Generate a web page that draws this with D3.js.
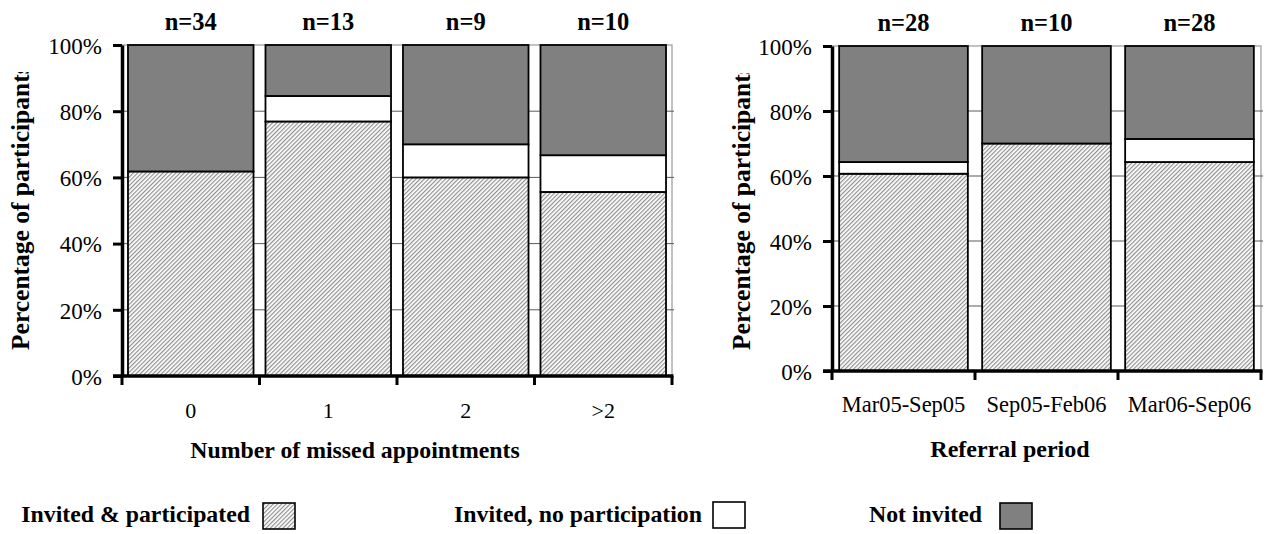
<!DOCTYPE html>
<html>
<head>
<meta charset="utf-8">
<script src="https://cdn.jsdelivr.net/npm/d3@7/dist/d3.min.js"></script>
<style>
  html, body { margin: 0; padding: 0; background: #ffffff; }
  svg { display: block; }
  text { font-family: "Liberation Serif", "Times New Roman", serif; fill: #000; }
</style>
</head>
<body>
<svg id="chart" width="1274" height="534"></svg>
<script>
// ---------- data ----------
const seriesKeys = ["participated", "noParticipation", "notInvited"];
const seriesNames = ["Invited & participated", "Invited, no participation", "Not invited"];
const yTicks = [0, 20, 40, 60, 80, 100];
const yTitle = "Percentage of participants";

const leftCategories = ["0", "1", "2", ">2"];
const leftN = ["n=34", "n=13", "n=9", "n=10"];
const leftParticipated = [61.8, 76.9, 60.0, 55.6];
const leftNoParticipation = [0, 7.7, 10.0, 11.1];
const leftNotInvited = [38.2, 15.4, 30.0, 33.3];
const leftXTitle = "Number of missed appointments";

const rightCategories = ["Mar05-Sep05", "Sep05-Feb06", "Mar06-Sep06"];
const rightN = ["n=28", "n=10", "n=28"];
const rightParticipated = [60.7, 70.0, 64.3];
const rightNoParticipation = [3.6, 0, 7.1];
const rightNotInvited = [35.7, 30.0, 28.6];
const rightXTitle = "Referral period";

// ---------- setup ----------
const svg = d3.select("#chart");
const defs = svg.append("defs");
const pat = defs.append("pattern")
  .attr("id", "hatch")
  .attr("patternUnits", "userSpaceOnUse")
  .attr("width", 3).attr("height", 10)
  .attr("patternTransform", "rotate(45)");
pat.append("rect").attr("width", 3).attr("height", 10).attr("fill", "#ffffff");
pat.append("rect").attr("width", 1.2).attr("height", 10).attr("fill", "#909090");

const fills = { participated: "url(#hatch)", noParticipation: "#ffffff", notInvited: "#808080" };

function drawChart(cfg) {
  const rows = cfg.categories.map((c, i) => ({
    cat: c,
    participated: cfg.participated[i],
    noParticipation: cfg.noParticipation[i],
    notInvited: cfg.notInvited[i]
  }));
  const x = d3.scaleBand().domain(cfg.categories).range([cfg.x0, cfg.x1])
    .paddingInner(cfg.pad).paddingOuter(cfg.pad / 2);
  const y = d3.scaleLinear().domain([0, 100]).range([cfg.yBottom, cfg.yTop]);
  const g = svg.append("g");

  // plot border (top/right) and gridlines
  g.append("rect")
    .attr("x", cfg.x0).attr("y", y(100))
    .attr("width", cfg.x1 - cfg.x0).attr("height", y(0) - y(100))
    .attr("fill", "none").attr("stroke", "#9a9a9a").attr("stroke-width", 1.2);
  g.selectAll(".grid").data(yTicks.filter(t => t > 0 && t < 100)).enter()
    .append("line")
    .attr("x1", cfg.x0).attr("x2", cfg.x1 + 2)
    .attr("y1", d => y(d)).attr("y2", d => y(d))
    .attr("stroke", "#5a5a5a").attr("stroke-width", 1);

  // stacked bars
  const stack = d3.stack().keys(seriesKeys)(rows);
  stack.forEach(layer => {
    g.selectAll(null).data(layer.filter(d => d[1] - d[0] > 0)).enter()
      .append("rect")
      .attr("x", d => x(d.data.cat))
      .attr("width", x.bandwidth())
      .attr("y", d => y(d[1]))
      .attr("height", d => y(d[0]) - y(d[1]))
      .attr("fill", fills[layer.key])
      .attr("stroke", "#000").attr("stroke-width", 1.8);
  });

  // n labels
  g.selectAll(".nlab").data(cfg.nLabels).enter()
    .append("text")
    .attr("x", (d, i) => x(cfg.categories[i]) + x.bandwidth() / 2)
    .attr("y", cfg.nY)
    .attr("text-anchor", "middle")
    .attr("font-weight", "bold").attr("font-size", 24.5)
    .text(d => d);

  // y axis
  const yAxis = d3.axisLeft(y).tickValues(yTicks).tickFormat(d => d + "%")
    .tickSize(9).tickSizeOuter(0).tickPadding(11);
  const ya = g.append("g").attr("transform", `translate(${cfg.x0},0)`).call(yAxis);
  ya.select(".domain").attr("stroke", "#000").attr("stroke-width", 3.5);
  ya.selectAll(".tick line").attr("stroke", "#000").attr("stroke-width", 3);
  ya.selectAll(".tick text")
    .attr("font-family", "Liberation Serif, serif").attr("font-size", 23)
    .attr("fill", "#000").attr("dy", "0.36em");

  // x axis: baseline and boundary ticks
  const boundaries = d3.range(cfg.categories.length + 1).map(i => x.range()[0] + i * x.step());
  g.append("line")
    .attr("x1", cfg.x0 - 9).attr("x2", cfg.x1 + 1.5)
    .attr("y1", y(0)).attr("y2", y(0))
    .attr("stroke", "#000").attr("stroke-width", 3.5);
  g.selectAll(".xt").data(boundaries).enter()
    .append("line")
    .attr("x1", d => d).attr("x2", d => d)
    .attr("y1", y(0)).attr("y2", y(0) + 9)
    .attr("stroke", "#000").attr("stroke-width", 3);

  // category labels
  const xAxis = d3.axisBottom(x).tickSize(0).tickPadding(0);
  const xa = g.append("g").attr("transform", `translate(0,${cfg.catY})`).call(xAxis);
  xa.select(".domain").remove();
  xa.selectAll(".tick text")
    .attr("font-family", "Liberation Serif, serif").attr("font-size", cfg.catSize)
    .attr("fill", "#000").attr("dy", 0).attr("y", 0);

  // x title
  g.append("text")
    .attr("x", cfg.xTitleX).attr("y", cfg.xTitleY)
    .attr("text-anchor", "middle")
    .attr("font-weight", "bold").attr("font-size", cfg.xTitleSize)
    .text(cfg.xTitle);

  // y title (clipped at top as in the original)
  const clipId = "clip" + cfg.id;
  defs.append("clipPath").attr("id", clipId)
    .append("rect").attr("x", 0).attr("y", cfg.yTitleClip).attr("width", 1274).attr("height", 534);
  g.append("g").attr("clip-path", `url(#${clipId})`)
    .append("text")
    .attr("transform", `translate(${cfg.yTitleX},${cfg.yTitleY}) rotate(-90)`)
    .attr("font-weight", "bold").attr("font-size", 25.5)
    .text(yTitle);
}

drawChart({
  id: "L", categories: leftCategories, nLabels: leftN,
  participated: leftParticipated, noParticipation: leftNoParticipation, notInvited: leftNotInvited,
  x0: 122, x1: 672, yTop: 45, yBottom: 376, pad: 0.087,
  nY: 30, catY: 418, catSize: 22, xTitle: leftXTitle, xTitleX: 355, xTitleY: 458, xTitleSize: 23.8,
  yTitleX: 29, yTitleY: 350, yTitleClip: 72
});
drawChart({
  id: "R", categories: rightCategories, nLabels: rightN,
  participated: rightParticipated, noParticipation: rightNoParticipation, notInvited: rightNotInvited,
  x0: 832, x1: 1261, yTop: 46, yBottom: 371, pad: 0.1,
  nY: 31, catY: 412, catSize: 22.5, xTitle: rightXTitle, xTitleX: 1010, xTitleY: 457, xTitleSize: 24,
  yTitleX: 750, yTitleY: 350, yTitleClip: 73
});

// ---------- legend ----------
const legendItems = [
  { key: "participated", textEnd: 250, boxX: 263, boxY: 503 },
  { key: "noParticipation", textEnd: 702, boxX: 713, boxY: 502 },
  { key: "notInvited", textEnd: 982, boxX: 1000, boxY: 503 }
];
const lg = svg.append("g");
legendItems.forEach((it, i) => {
  lg.append("text")
    .attr("x", it.textEnd).attr("y", 522)
    .attr("text-anchor", "end")
    .attr("font-weight", "bold").attr("font-size", 23.8)
    .text(seriesNames[i]);
  lg.append("rect")
    .attr("x", it.boxX).attr("y", it.boxY)
    .attr("width", 32).attr("height", 26)
    .attr("fill", fills[it.key])
    .attr("stroke", "#000").attr("stroke-width", 1.6);
});
</script>
</body>
</html>
